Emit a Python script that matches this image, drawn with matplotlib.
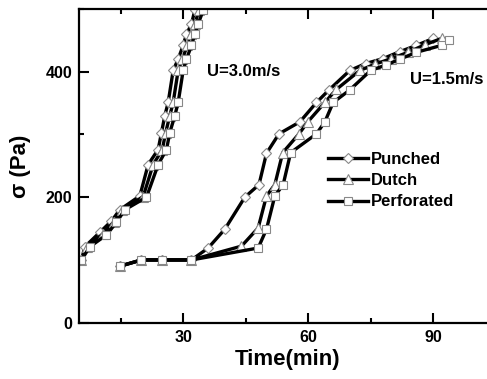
import numpy as np
import matplotlib
matplotlib.use('Agg')
import matplotlib.pyplot as plt
from matplotlib.ticker import MultipleLocator

plt.rcParams['font.family'] = ['Liberation Sans', 'DejaVu Sans']
plt.rcParams['font.weight'] = 'bold'

# --- data: time (min) vs shear stress sigma (Pa) ---
# U = 3.0 m/s
t_punch_3 = [5.6, 6.4, 10.0, 12.8, 14.8, 19.6, 21.6, 24.0, 24.8, 25.6, 26.4, 27.6, 28.8, 30.0, 30.8, 32.0, 32.8]
s_punch_3 = [100, 121, 144, 162, 180, 202, 252, 276, 303, 330, 351, 402, 420, 442, 460, 476, 498]
t_dutch_3 = [5.6, 7.0, 10.8, 13.4, 15.4, 20.4, 22.8, 25.0, 25.8, 26.8, 27.6, 28.8, 29.8, 31.0, 31.8, 32.8, 33.8]
s_dutch_3 = [100, 121, 142, 161, 180, 201, 252, 276, 303, 330, 351, 402, 420, 442, 460, 476, 498]
t_perf_3 = [5.6, 7.6, 11.6, 14.0, 16.0, 21.2, 24.0, 26.0, 26.8, 28.0, 28.8, 30.0, 30.8, 32.0, 32.8, 33.6, 34.8]
s_perf_3 = [100, 121, 140, 160, 180, 200, 252, 276, 303, 330, 351, 402, 420, 442, 460, 476, 498]

# U = 1.5 m/s
t_punch_15 = [14.8, 20, 25, 32, 36, 40, 44.8, 48.2, 50, 53, 58, 62, 65, 70, 73.8, 78, 82, 86, 90]
s_punch_15 = [90, 100, 100, 100, 119, 149, 200, 220, 270, 301, 320, 351, 371, 402, 413, 421, 432, 442, 453]
t_dutch_15 = [14.8, 20, 25, 32, 44, 48, 50, 52, 53.9, 57.8, 59.9, 64, 66.8, 72.4, 76, 80, 84, 88, 92]
s_dutch_15 = [90, 100, 100, 100, 122, 151, 202, 220, 271, 301, 320, 351, 372, 402, 412, 421, 431, 443, 453]
t_perf_15 = [14.8, 20, 25, 32, 48, 50, 52, 54, 55.8, 62, 64, 66, 70, 75, 78.8, 82, 86, 92, 93.9]
s_perf_15 = [90, 100, 100, 100, 119, 149, 202, 220, 271, 301, 320, 351, 371, 402, 411, 420, 431, 442, 451]

labels = ['Punched', 'Dutch', 'Perforated']

fig = plt.figure(figsize=(4.87, 3.79), dpi=100)
ax = fig.add_axes([0.1622, 0.1486, 0.8556, 0.8277])

styles = [('D', 5.0), ('^', 6.5), ('s', 6.0)]
curves = [
    (t_punch_3, s_punch_3, t_punch_15, s_punch_15),
    (t_dutch_3, s_dutch_3, t_dutch_15, s_dutch_15),
    (t_perf_3, s_perf_3, t_perf_15, s_perf_15),
]
for (m, ms), lab, (ta, sa, tb, sb) in zip(styles, labels, curves):
    kw = dict(color='black', lw=2.4, marker=m, ms=ms, mfc='white',
              mec='#888888', mew=0.8)
    ax.plot(ta, sa, label=lab, **kw)
    ax.plot(tb, sb, **kw)

ax.set_xlim(5, 105)
ax.set_ylim(0, 500)
ax.xaxis.set_major_locator(MultipleLocator(30))
ax.xaxis.set_minor_locator(MultipleLocator(15))
ax.yaxis.set_major_locator(MultipleLocator(200))
ax.yaxis.set_minor_locator(MultipleLocator(100))
ax.tick_params(which='both', direction='in', top=True, right=False, width=1.5)
ax.tick_params(which='major', length=7, labelsize=11.5, pad=5)
ax.tick_params(which='minor', length=3.5)
for sp in ax.spines.values():
    sp.set_linewidth(1.6)
ax.spines['right'].set_visible(False)

ax.set_xlabel('Time(min)', fontsize=16, fontweight='bold', labelpad=3)
ax.set_ylabel('σ (Pa)', fontsize=16, fontweight='bold', labelpad=10)

ax.text(35.7, 400, 'U=3.0m/s', fontsize=12, fontweight='bold', va='center')
ax.text(84.4, 388, 'U=1.5m/s', fontsize=12, fontweight='bold', va='center')

ax.legend(loc='upper left', bbox_to_anchor=(0.597, 0.545), frameon=False,
          prop={'size': 12, 'weight': 'bold'}, handlelength=2.4,
          handletextpad=0.2, labelspacing=0.38, borderpad=0, borderaxespad=0)

fig.savefig('out.png', dpi=100)
